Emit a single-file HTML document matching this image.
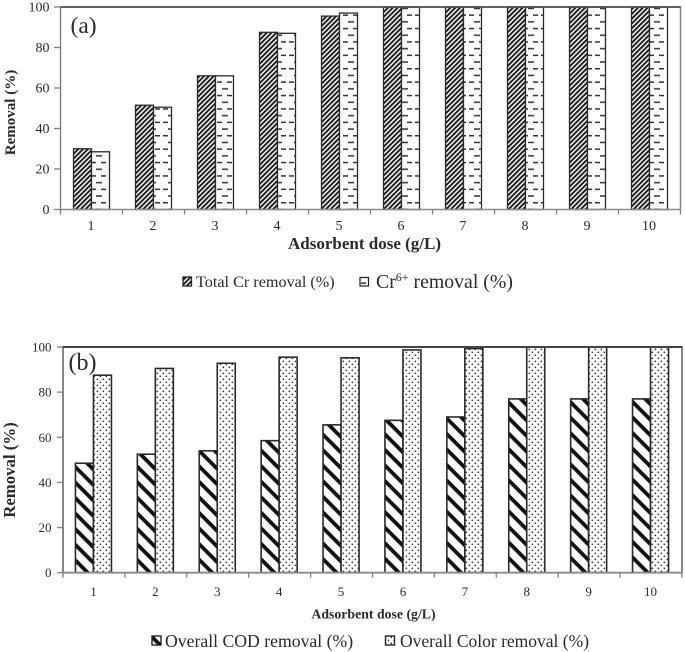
<!DOCTYPE html>
<html>
<head>
<meta charset="utf-8">
<style>
html,body{margin:0;padding:0;background:#fff;width:685px;height:652px;overflow:hidden}
svg{display:block;filter:blur(0.35px)}
text{font-family:"Liberation Serif",serif;fill:#2a2a2a}
</style>
</head>
<body>
<svg id="fig" width="685" height="652" viewBox="0 0 685 652" xmlns="http://www.w3.org/2000/svg">
<defs>
<pattern id="p-hatch" patternUnits="userSpaceOnUse" width="3.4" height="4" patternTransform="rotate(45)">
<rect width="3.4" height="4" fill="#fff"/><rect width="2" height="4" fill="#222"/>
</pattern>
<pattern id="p-dash" patternUnits="userSpaceOnUse" width="18" height="13.4">
<rect width="18" height="13.4" fill="#fff"/>
<rect x="1" y="1" width="5" height="1.5" fill="#333"/><rect x="11" y="1" width="5" height="1.5" fill="#333"/>
<rect x="6" y="7.7" width="6" height="1.5" fill="#333"/>
</pattern>
<pattern id="p-diag" patternUnits="userSpaceOnUse" width="10.6" height="11" patternTransform="rotate(45)">
<rect width="10.6" height="11" fill="#fff"/><rect width="10.6" height="3.8" fill="#111"/>
</pattern>
<pattern id="p-dots" patternUnits="userSpaceOnUse" width="6" height="6">
<rect width="6" height="6" fill="#fff"/>
<rect x="0.6" y="0.6" width="1.5" height="1.5" fill="#333"/><rect x="3.6" y="3.6" width="1.5" height="1.5" fill="#333"/>
</pattern>
</defs>
</svg>
<script>
var categories = ["1","2","3","4","5","6","7","8","9","10"];
var yTicks = [0,20,40,60,80,100];
var totalCr = [30,51.5,66,87.5,95.5,100,100,100,100,100];
var cr6 = [28.5,50.5,66,87,97,100,100,100,100,100];
var overallCod = [48.5,52.5,54,58.5,65.5,67.5,69,77,77,77];
var overallColor = [87.5,90.5,92.8,95.5,95.2,98.7,99.3,100,100,100];

var svg = document.getElementById('fig');
var NS = 'http://www.w3.org/2000/svg';
function mk(tag, attrs, txt, parent){
  var e = document.createElementNS(NS, tag);
  for (var k in attrs) e.setAttribute(k, attrs[k]);
  if (txt !== undefined && txt !== null) e.textContent = txt;
  (parent || svg).appendChild(e);
  return e;
}
function drawPanel(cfg){
  var g = mk('g', {});
  
  
  var L = cfg.left, R = cfg.right, T = cfg.top, B = cfg.bottom;
  var step = (R - L) / categories.length;
  function xPos(i){ return L + step * i; }
  function yPos(v){ return B - (B - T) * v / 100; }

  cfg.series.forEach(function(s, si){
    s.values.forEach(function(v, i){
      var x = xPos(i) + step / 2 - cfg.barW + si * cfg.barW + cfg.shift;
      var bar = mk('rect', {x:x, y:yPos(v), width:cfg.barW, height:B - yPos(v), fill:'url(#' + s.pattern + ')', stroke:'#2a2a2a', 'stroke-width':cfg.barStroke}, null, g);
      
      
    });
  });

  var frame = mk('path', {d:'M' + L + ' ' + B + 'V' + T + 'H' + R + 'V' + B, fill:'none', stroke:'#808080', 'stroke-width':cfg.frameW}, null, g);
  
  
  var top = mk('line', {x1:L, x2:R, y1:T, y2:T, stroke:'#444', 'stroke-width':cfg.frameW + 0.2}, null, g);
  
  
  var xAxis = mk('line', {x1:L, x2:R, y1:B, y2:B, stroke:'#8a8a8a', 'stroke-width':cfg.frameW}, null, g);
  
  

  yTicks.forEach(function(t){
    var y = yPos(t);
    var tick = mk('line', {x1:L - cfg.tickLen, x2:L, y1:y, y2:y, stroke:'#808080', 'stroke-width':1.3}, null, g);
    
    
    var lab = mk('text', {x:L - cfg.labelGap, y:y + 4.5, 'text-anchor':'end', 'font-size':cfg.tickSize}, t, g);
    
    
  });
  for (var i = 0; i <= categories.length; i++){
    var xt = mk('line', {x1:xPos(i), x2:xPos(i), y1:B, y2:B + 5, stroke:'#808080', 'stroke-width':1.3}, null, g);
    
    
  }
  categories.forEach(function(c, i){
    var lab = mk('text', {x:xPos(i) + step / 2 - 0.5, y:cfg.xLabelY, 'text-anchor':'middle', 'font-size':cfg.xTickSize}, c, g);
    
    
  });

  var yt = mk('text', {transform:'translate(' + cfg.yTitleX + ' ' + cfg.yTitleY + ') rotate(-90)', 'text-anchor':'middle', 'font-size':cfg.yTitleSize, 'font-weight':'bold'}, 'Removal (%)', g);
  
  
  var xtl = mk('text', {x:cfg.xTitleX, y:cfg.xTitleY, 'text-anchor':'middle', 'font-size':cfg.xTitleSize, 'font-weight':'bold'}, 'Adsorbent dose (g/L)', g);
  
  
  var pl = mk('text', {x:cfg.panelX, y:cfg.panelY, 'font-size':cfg.panelSize}, cfg.panel, g);
  
  
  return g;
}

var ga = drawPanel({
  name:'chart-a', panel:'(a)', panelX:70.5, panelY:33, panelSize:23.5,
  left:60.5, right:680.5, top:7, bottom:209.5, barW:18, shift:0, barStroke:1.3,
  frameW:1.4, tickLen:6.5, labelGap:11,
  tickSize:14, xTickSize:14, xLabelY:230,
  yTitleX:15, yTitleY:112.5, yTitleSize:15,
  xTitleX:364.5, xTitleY:249, xTitleSize:17,
  series:[{key:'total-cr', values:totalCr, pattern:'p-hatch'},{key:'cr6', values:cr6, pattern:'p-dash'}]
});
var gb = drawPanel({
  name:'chart-b', panel:'(b)', panelX:68.5, panelY:370, panelSize:24,
  left:63, right:682, top:347, bottom:572.7, barW:18, shift:-0.5, barStroke:1.6,
  frameW:1.9, tickLen:6, labelGap:11.5,
  tickSize:13, xTickSize:13, xLabelY:596,
  yTitleX:15, yTitleY:470, yTitleSize:16.8,
  xTitleX:373.5, xTitleY:618.5, xTitleSize:13.8,
  series:[{key:'overall-cod', values:overallCod, pattern:'p-diag'},{key:'overall-color', values:overallColor, pattern:'p-dots'}]
});

var k1 = mk('rect', {x:183, y:277, width:8.5, height:9, fill:'url(#p-hatch)', stroke:'#222', 'stroke-width':1.3});


var t1 = mk('text', {x:196, y:287, 'font-size':16.2}, 'Total Cr removal (%)');


var k2 = mk('rect', {x:360, y:277.5, width:8.5, height:8.5, fill:'url(#p-dash)', stroke:'#222', 'stroke-width':1.2});


var t2 = mk('text', {x:376, y:288, 'font-size':19.8});


mk('tspan', {}, 'Cr', t2);
mk('tspan', {'font-size':12, dy:-7}, '6+', t2);
mk('tspan', {dy:7}, ' removal (%)', t2);

var k3 = mk('rect', {x:152, y:636, width:9, height:9, fill:'url(#p-diag)', stroke:'#222', 'stroke-width':1.4});


var t3 = mk('text', {x:165, y:647, 'font-size':17.7}, 'Overall COD removal (%)');


var k4 = mk('rect', {x:385.5, y:636, width:9, height:9, fill:'url(#p-dots)', stroke:'#222', 'stroke-width':1.4});


var t4 = mk('text', {x:400, y:647, 'font-size':17.5}, 'Overall Color removal (%)');


</script>
</body>
</html>
